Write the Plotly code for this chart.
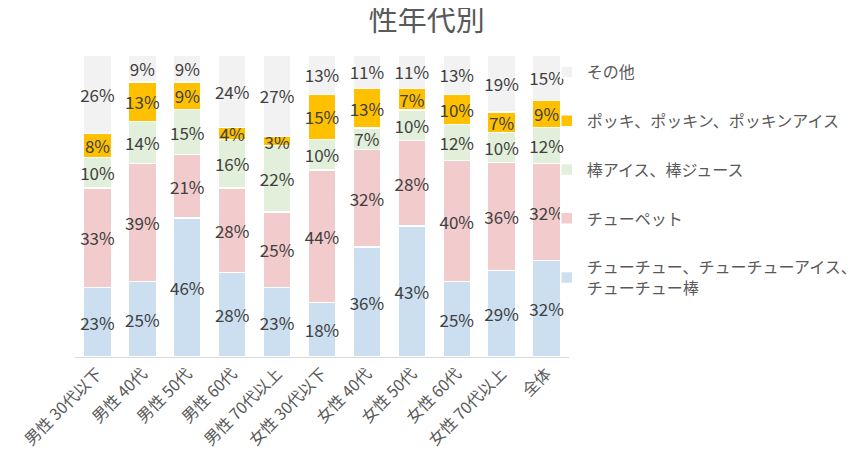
import plotly.graph_objects as go

categories = ["男性 30代以下", "男性 40代", "男性 50代", "男性 60代", "男性 70代以上",
              "女性 30代以下", "女性 40代", "女性 50代", "女性 60代", "女性 70代以上", "全体"]

chuchu = [23, 25, 46, 28, 23, 18, 36, 43, 25, 29, 32]
chupet = [33, 39, 21, 28, 25, 44, 32, 28, 40, 36, 32]
bou = [10, 14, 15, 16, 22, 10, 7, 10, 12, 10, 12]
pokki = [8, 13, 9, 4, 3, 15, 13, 7, 10, 7, 9]
other = [26, 9, 9, 24, 27, 13, 11, 11, 13, 19, 15]

series = [
    ("チューチュー、チューチューアイス、<br>チューチュー棒", chuchu, "#CCDFF1"),
    ("チューペット", chupet, "#F2CBCC"),
    ("棒アイス、棒ジュース", bou, "#E2EFDA"),
    ("ポッキ、ポッキン、ポッキンアイス", pokki, "#FFC000"),
    ("その他", other, "#F2F2F2"),
]

font_family = "Noto Sans CJK JP"
fig = go.Figure()
n = len(series)
for i, (name, vals, color) in enumerate(series):
    fig.add_trace(go.Bar(
        x=categories, y=vals, name=name,
        marker=dict(color=color, line=dict(color="white", width=1.5)),
        text=[f"{v}%" for v in vals],
        textposition="inside", insidetextanchor="middle",
        constraintext="none", textangle=0,
        textfont=dict(size=17, color="#404040", family=font_family),
        legendgroup=f"g{i}", legendrank=n - i,
        hoverinfo="skip",
    ))

# page body has an 8px margin in the browser; compensate
fig.update_layout(
    barmode="stack", barnorm="percent", bargap=0.38,
    width=866, height=469,
    margin=dict(l=67, r=302, t=47, b=120),
    paper_bgcolor="white", plot_bgcolor="white",
    title=dict(text="性年代別", x=0.4835, xanchor="center", y=0.972, yanchor="middle",
               font=dict(size=29, color="#595959", family=font_family)),
    font=dict(family=font_family, color="#595959"),
    legend=dict(x=0.955, xanchor="left", y=1.0, yanchor="top",
                traceorder="grouped", tracegroupgap=25,
                bgcolor="rgba(0,0,0,0)",
                font=dict(size=16, color="#595959", family=font_family),
                itemwidth=30),
    showlegend=True,
)
fig.update_xaxes(tickangle=-45, tickfont=dict(size=16, color="#595959"),
                 showline=True, linecolor="#D9D9D9", linewidth=1, ticks="",
                 automargin=False)
fig.update_yaxes(visible=False, range=[0, 100], automargin=False)

fig.write_html("out.html")
